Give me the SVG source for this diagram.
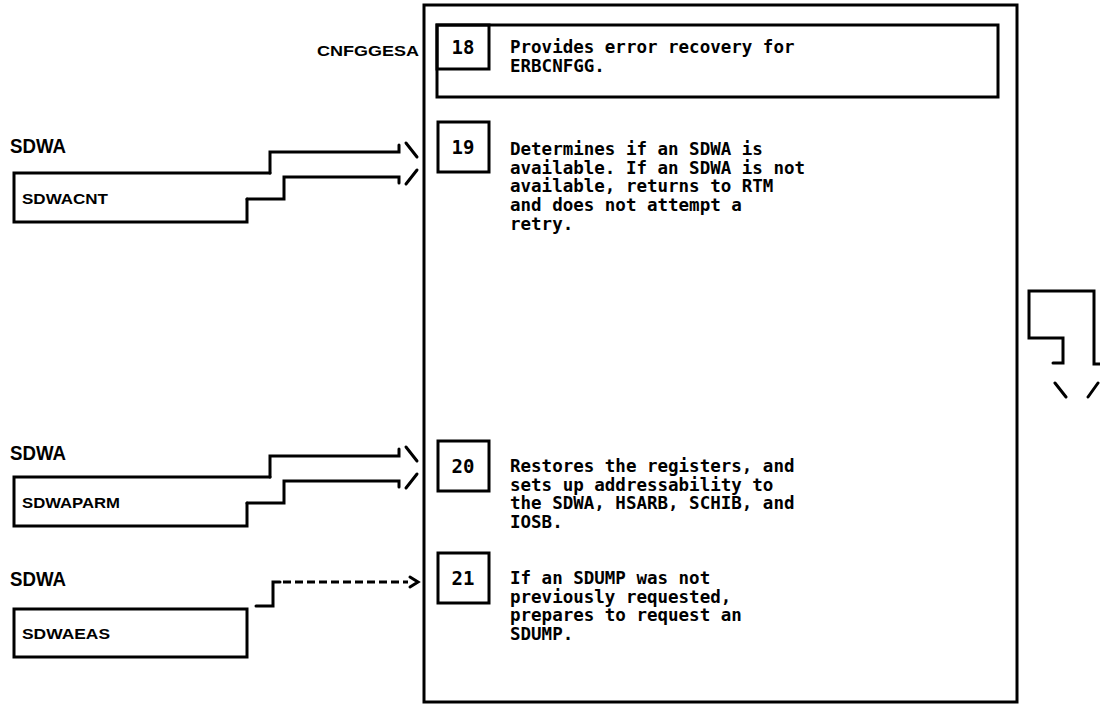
<svg xmlns="http://www.w3.org/2000/svg" width="1100" height="704" viewBox="0 0 1100 704">
<style>
.ln{fill:none;stroke:#000;stroke-width:3;stroke-linecap:round;stroke-linejoin:miter}
.box{fill:none;stroke:#000;stroke-width:3}
.dash{stroke-dasharray:8 4;stroke-linecap:butt}
.txt{font-family:"DejaVu Sans Mono","Liberation Mono",monospace;font-weight:bold;font-size:17.5px;fill:#000}
.num{font-family:"DejaVu Sans Mono","Liberation Mono",monospace;font-weight:bold;font-size:19px;fill:#000;text-anchor:middle}
.lbl{font-family:"Liberation Sans",Arial,sans-serif;font-weight:bold;font-size:21px;fill:#000}
.fld{font-family:"Liberation Sans",Arial,sans-serif;font-weight:bold;font-size:15px;fill:#000}
</style>
<rect width="1100" height="704" fill="#fff"/>
<g id="panel"><rect class="box" x="424" y="5" width="593" height="697"/></g>
<g id="step18">
<rect class="box" x="437" y="25" width="561" height="72"/>
<rect class="box" x="437" y="25" width="52" height="44"/>
<text class="num" x="463" y="54">18</text>
<text class="txt" x="510" y="53">Provides error recovery for</text>
<text class="txt" x="510" y="72">ERBCNFGG.</text>
</g>
<g id="step19">
<rect class="box" x="438" y="122" width="51" height="50"/>
<text class="num" x="463" y="154">19</text>
<text class="txt"><tspan x="510" y="155">Determines if an SDWA is</tspan><tspan x="510" y="173.7">available. If an SDWA is not</tspan><tspan x="510" y="192.3">available, returns to RTM</tspan><tspan x="510" y="211">and does not attempt a</tspan><tspan x="510" y="229.7">retry.</tspan></text>
</g>
<g id="step20">
<rect class="box" x="438" y="441" width="51" height="50"/>
<text class="num" x="463" y="473">20</text>
<text class="txt"><tspan x="510" y="472">Restores the registers, and</tspan><tspan x="510" y="490.7">sets up addressability to</tspan><tspan x="510" y="509.3">the SDWA, HSARB, SCHIB, and</tspan><tspan x="510" y="528">IOSB.</tspan></text>
</g>
<g id="step21">
<rect class="box" x="438" y="553" width="51" height="50"/>
<text class="num" x="463" y="585">21</text>
<text class="txt"><tspan x="510" y="584">If an SDUMP was not</tspan><tspan x="510" y="602.7">previously requested,</tspan><tspan x="510" y="621.3">prepares to request an</tspan><tspan x="510" y="640">SDUMP.</tspan></text>
</g>
<g id="cnfggesa"><text class="fld" x="419" y="56" text-anchor="end" textLength="102" lengthAdjust="spacingAndGlyphs">CNFGGESA</text></g>
<g id="sdwacnt">
<text class="lbl" x="10" y="153" textLength="56" lengthAdjust="spacingAndGlyphs">SDWA</text>
<path class="ln" d="M270,173 H14 V222 H247 V199"/>
<text class="fld" x="22" y="204" textLength="86" lengthAdjust="spacingAndGlyphs">SDWACNT</text>
</g>
<g id="sdwaparm">
<text class="lbl" x="10" y="460" textLength="56" lengthAdjust="spacingAndGlyphs">SDWA</text>
<path class="ln" d="M270,477 H14 V526 H247 V503"/>
<text class="fld" x="22" y="508" textLength="98" lengthAdjust="spacingAndGlyphs">SDWAPARM</text>
</g>
<g id="sdwaeas">
<text class="lbl" x="10" y="586" textLength="56" lengthAdjust="spacingAndGlyphs">SDWA</text>
<rect class="box" x="14" y="609" width="233" height="48"/>
<text class="fld" x="22" y="639" textLength="88" lengthAdjust="spacingAndGlyphs">SDWAEAS</text>
</g>
<g id="connectors">
<path class="ln" d="M270,173 V152 H399 V145"/>
<path class="ln" d="M247,199 H284 V177 H399 V183"/>
<path class="ln" d="M406,143 L417,157 M417,170 L406,184"/>
<path class="ln" d="M270,477 V456 H399 V449"/>
<path class="ln" d="M247,503 H284 V481 H399 V487"/>
<path class="ln" d="M406,447 L417,461 M417,474 L406,488"/>
<path class="ln" d="M256,606 H273 V582 H280"/>
<path class="ln dash" d="M283,582 H408"/>
<path class="ln" d="M410,577 L418,582 L410,587"/>
</g>
<g id="flow-arrow">
<path class="ln" d="M1053,363 H1063 V338 H1029 V291 H1094 V364 H1100"/>
<path class="ln" d="M1055,383 L1066,397 M1088,397 L1098,383"/>
</g>
</svg>
